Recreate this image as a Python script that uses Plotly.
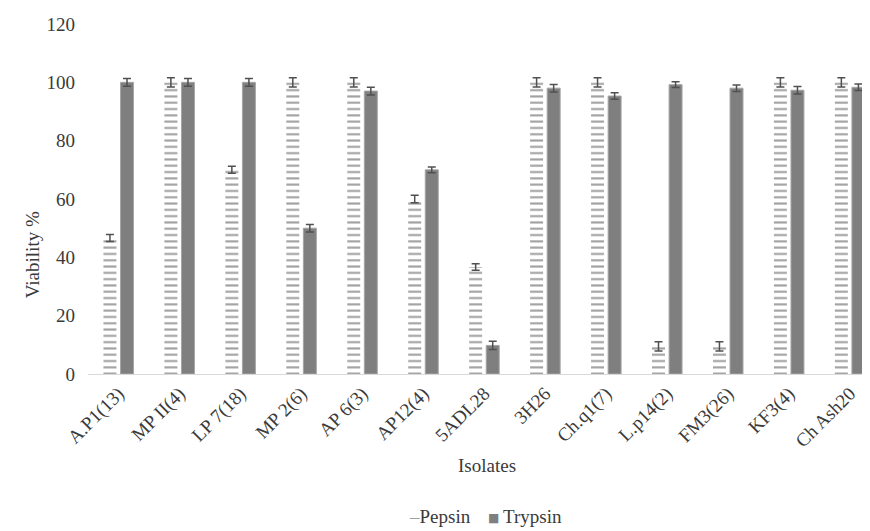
import plotly.graph_objects as go

isolates = ["A.P1(13)", "MP II(4)", "LP 7(18)", "MP 2(6)", "AP 6(3)", "AP12(4)", "5ADL28",
            "3H26", "Ch.q1(7)", "L.p14(2)", "FM3(26)", "KF3(4)", "Ch Ash20"]
pepsin = [46.6, 100, 70, 100, 100, 60, 36.7, 100, 100, 9.5, 9.5, 100, 100]
pepsin_err = [1.2, 1.6, 1.2, 1.6, 1.6, 1.3, 1.1, 1.6, 1.6, 1.6, 1.6, 1.6, 1.6]
trypsin = [100, 100, 100, 50, 97, 70, 9.8, 98, 95.3, 99.2, 98, 97.3, 98.3]
trypsin_err = [1.3, 1.3, 1.3, 1.3, 1.3, 1.0, 1.4, 1.3, 1.1, 1.0, 1.1, 1.3, 1.1]
y_ticks = [0, 20, 40, 60, 80, 100, 120]
series_names = ["Pepsin", "Trypsin"]

FONT = "Liberation Serif"
TXT = "#3a3a3a"
FS = 19
PEP_LINE = "#a0a0a0"
TRY_FILL = "#7f7f7f"

fig = go.Figure()
fig.add_trace(go.Bar(
    name=series_names[0], x=isolates, y=pepsin, showlegend=False,
    marker=dict(color="white", line=dict(width=0),
                pattern=dict(shape="-", fgcolor=PEP_LINE, bgcolor="white",
                             size=6.3, solidity=0.33, fillmode="replace")),
    error_y=dict(type="data", array=pepsin_err, color="#505050", thickness=1.5, width=4),
))
fig.add_trace(go.Bar(
    name=series_names[1], x=isolates, y=trypsin, showlegend=False,
    marker=dict(color=TRY_FILL, line=dict(color="#a6a6a6", width=1)),
    error_y=dict(type="data", array=trypsin_err, color="#505050", thickness=1.5, width=4),
))

# page body has an 8px default margin, so the figure is sized to fit the window
LEG_Y = -0.408
fig.update_layout(
    width=862, height=523,
    margin=dict(l=80, r=0, t=16, b=157),
    paper_bgcolor="white", plot_bgcolor="white",
    barmode="group", bargap=0.44, bargroupgap=0.24,
    font=dict(family=FONT, size=FS, color=TXT),
    showlegend=False,
    xaxis=dict(range=[-0.5, 12.33], showline=True, linecolor="#d9d9d9", linewidth=1,
               ticks="", tickangle=-45, showgrid=False, zeroline=False,
               tickfont=dict(family=FONT, size=FS, color=TXT)),
    yaxis=dict(range=[0, 120], tickvals=y_ticks, showline=False, showgrid=False,
               zeroline=False, ticks="", ticklabelstandoff=12,
               tickfont=dict(family=FONT, size=FS, color=TXT)),
    annotations=[
        dict(text="Viability %", xref="paper", yref="paper", x=-0.086, y=0.34,
             textangle=-90, showarrow=False, font=dict(family=FONT, size=FS, color=TXT)),
        dict(text="Isolates", xref="paper", yref="paper", x=0.51, y=-0.297,
             showarrow=False, font=dict(family=FONT, size=FS, color=TXT)),
        dict(text=f"<span style='color:{PEP_LINE}'>–</span>{series_names[0]}",
             xref="paper", yref="paper", x=0.450, y=LEG_Y, xanchor="center", yanchor="middle",
             showarrow=False, font=dict(family=FONT, size=FS, color=TXT)),
        dict(text="■", xref="paper", yref="paper", x=0.5186, y=LEG_Y - 0.004,
             xanchor="center", yanchor="middle",
             showarrow=False, font=dict(family="DejaVu Sans", size=12, color=TRY_FILL)),
        dict(text=series_names[1],
             xref="paper", yref="paper", x=0.5684, y=LEG_Y, xanchor="center", yanchor="middle",
             showarrow=False, font=dict(family=FONT, size=FS, color=TXT)),
    ],
)

fig.write_html("out.html")
